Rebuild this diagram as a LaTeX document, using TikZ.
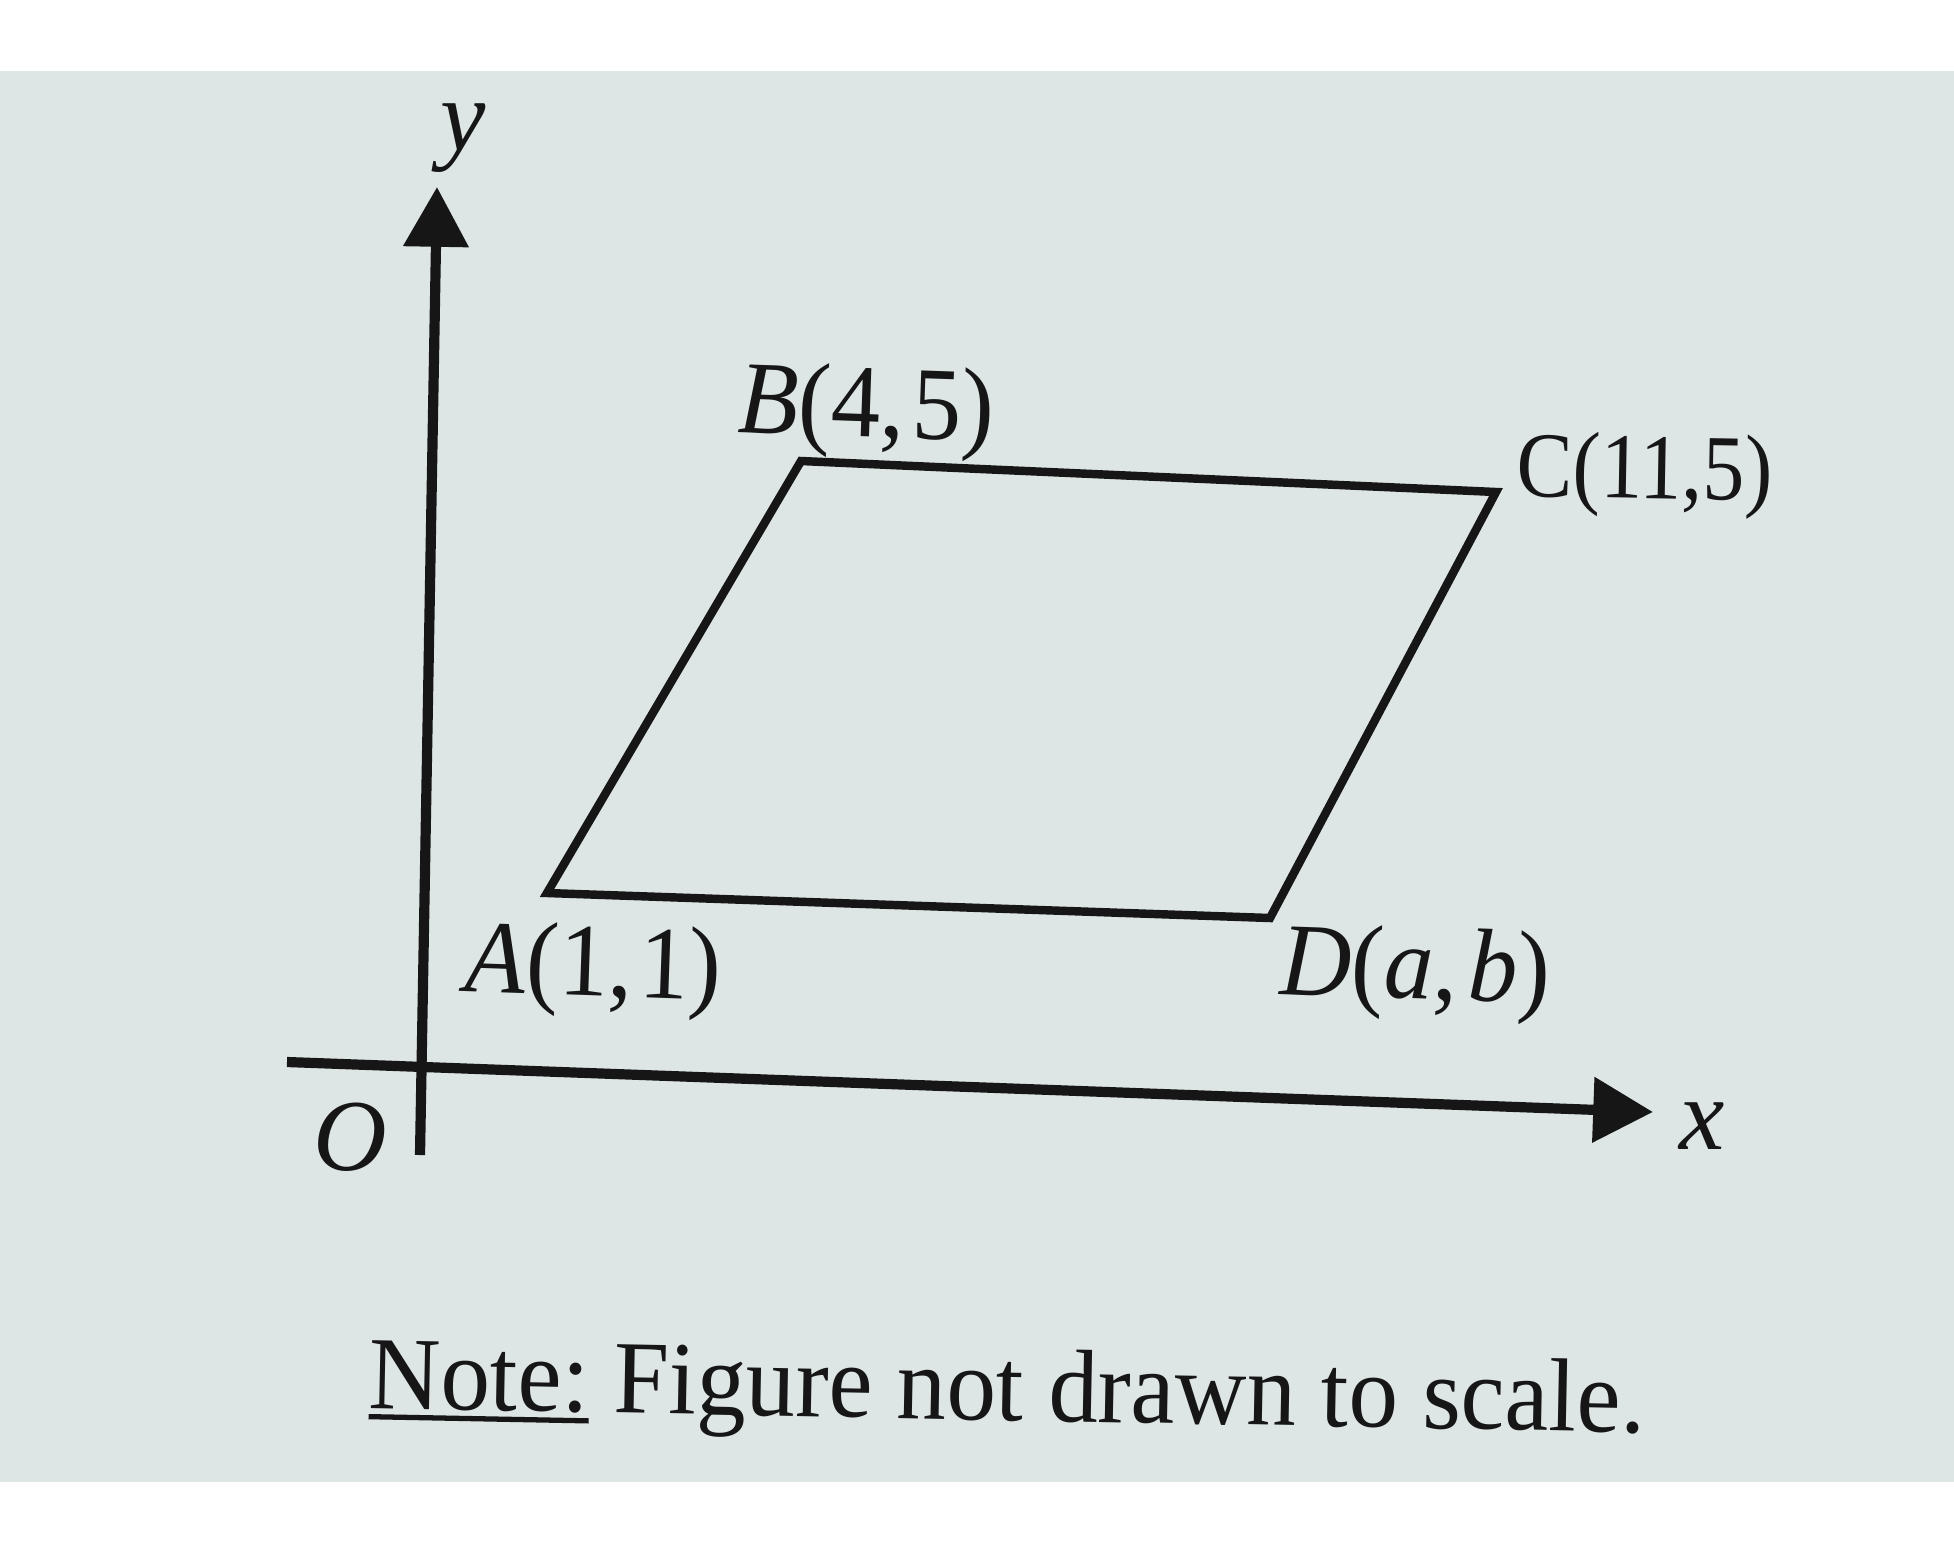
\documentclass[tikz,border=0pt]{standalone}
\usepackage{fontspec}
\setmainfont{Liberation Serif}
\usetikzlibrary{arrows.meta}
\definecolor{bg}{RGB}{222,229,229}
\definecolor{ink}{RGB}{22,22,22}
\newcommand\noteul[1]{\setbox0\hbox{#1}\rlap{\rule[-3.2pt]{\wd0}{1.5pt}}\box0\relax}
\begin{document}
\begin{tikzpicture}[x=0.01cm,y=-0.01cm,
  axis/.style={line width=2.9pt, draw=ink, -{Triangle[length=17pt,width=18pt]}},
  edge/.style={line width=2.4pt, draw=ink, line join=miter},
  lbl/.style={inner sep=0pt, text=ink, font=\fontsize{29.5}{34}\selectfont, anchor=base west},
  clbl/.style={inner sep=0pt, text=ink, font=\fontsize{26.5}{30}\selectfont, anchor=base west},
  axl/.style={inner sep=0pt, text=ink, font=\fontsize{29}{34}\selectfont, anchor=base west},
  notel/.style={inner sep=0pt, text=ink, font=\fontsize{29.5}{34}\selectfont, anchor=base west}]
\useasboundingbox (0,0) rectangle (1954,1554);
\fill[white] (0,0) rectangle (1954,1554);
\fill[bg] (0,71) rectangle (1954,1482);
% axes
\coordinate (xs) at (287,1062);
\coordinate (xe) at (1653,1112);
\coordinate (ys) at (420,1155);
\coordinate (ye) at (437,187);
\draw[axis] (xs) -- (xe);
\draw[axis] (ys) -- (ye);
% parallelogram
\coordinate (A) at (547,893);
\coordinate (B) at (801,461);
\coordinate (C) at (1496,492);
\coordinate (D) at (1270,918);
\draw[edge] (A) -- (B) -- (C) -- (D) -- cycle;
% labels
\node[lbl, rotate=-2] (Bl) at (737,432) {\scalebox{0.95}[1]{\textit{B}(4,\kern2pt5)}};
\node[clbl, rotate=-1] (Cl) at (1516,496) {\scalebox{0.9}[1]{C(11,5)}};
\node[lbl, rotate=-2] (Al) at (464,991) {\scalebox{0.95}[1]{\textit{A}(1,\kern2pt1)}};
\node[lbl, rotate=-2] (Dl) at (1279,994) {\scalebox{0.95}[1]{\textit{D}(\textit{a},\kern3pt\textit{b})}};
\node[axl] (Ol) at (313,1170) {\textit{O}};
\node[axl] (xl) at (1679,1149) {\textit{x}};
\node[axl] (yl) at (440,150) {\textit{y}};
\node[notel, rotate=-1.1] (note) at (368,1408) {\scalebox{0.955}[1]{\noteul{Note:} Figure not drawn to scale.}};
\end{tikzpicture}
\end{document}
